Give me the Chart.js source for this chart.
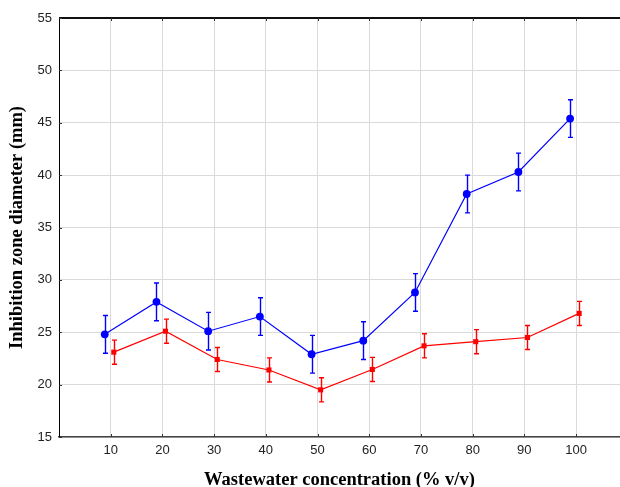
<!DOCTYPE html>
<html>
<head>
<meta charset="utf-8">
<script src="https://cdn.jsdelivr.net/npm/chart.js@4/dist/chart.umd.min.js"></script>
<style>
  html, body { margin: 0; padding: 0; background: #fff; overflow: hidden; }
  canvas { display: block; }
</style>
</head>
<body>
<canvas id="chart" width="620" height="487"></canvas>
<script>
// Wastewater concentration levels (% v/v)
const concentrations = [10, 20, 30, 40, 50, 60, 70, 80, 90, 100];

// Inhibition zone diameter (mm), mean and error for each series
const blueMeans  = [24.8, 27.9, 25.1, 26.5, 22.9, 24.2, 28.8, 38.2, 40.3, 45.4];
const blueErrors = [1.8, 1.8, 1.8, 1.8, 1.8, 1.8, 1.8, 1.8, 1.8, 1.8];
const redMeans   = [23.1, 25.1, 22.4, 21.4, 19.5, 21.45, 23.7, 24.1, 24.5, 26.8];
const redErrors  = [1.15, 1.15, 1.15, 1.15, 1.15, 1.15, 1.15, 1.15, 1.15, 1.15];

// Axis ticks
const xTicks = [10, 20, 30, 40, 50, 60, 70, 80, 90, 100];
const yTicks = [15, 20, 25, 30, 35, 40, 45, 50, 55];

// Small horizontal dodge so the two series' error bars do not overlap
const BLUE_DODGE = -1.15;
const RED_DODGE = 0.6;

const toPoints = (means, dodge) =>
  concentrations.map((c, i) => ({ x: c + dodge, y: means[i] }));

// Vertical error bars with short caps, drawn under the markers
const errorBars = {
  id: 'errorBars',
  beforeDatasetsDraw(chart) {
    const { ctx, scales: { x, y } } = chart;
    chart.data.datasets.forEach(ds => {
      if (!ds.errors) return;
      ctx.save();
      ctx.strokeStyle = ds.borderColor;
      ctx.lineWidth = 1.4;
      ds.data.forEach((p, i) => {
        const e = ds.errors[i];
        const px = Math.round(x.getPixelForValue(p.x)) + 0.5;
        const top = y.getPixelForValue(p.y + e);
        const bot = y.getPixelForValue(p.y - e);
        const cap = 2.5;
        ctx.beginPath();
        ctx.moveTo(px, top); ctx.lineTo(px, bot);
        ctx.moveTo(px - cap, top); ctx.lineTo(px + cap, top);
        ctx.moveTo(px - cap, bot); ctx.lineTo(px + cap, bot);
        ctx.stroke();
      });
      ctx.restore();
    });
  }
};

// Top frame line and short inward tick marks
const frame = {
  id: 'frame',
  afterDraw(chart) {
    const { ctx, chartArea: a, scales: { x, y } } = chart;
    ctx.save();
    ctx.strokeStyle = '#111';
    ctx.lineWidth = 2;
    ctx.beginPath();
    ctx.moveTo(a.left, a.top); ctx.lineTo(a.right, a.top);
    ctx.stroke();
    ctx.strokeStyle = '#333';
    ctx.lineWidth = 1;
    ctx.beginPath();
    xTicks.forEach(v => {
      const px = Math.round(x.getPixelForValue(v)) + 0.5;
      ctx.moveTo(px, a.top); ctx.lineTo(px, a.top + 3);
      ctx.moveTo(px, a.bottom); ctx.lineTo(px, a.bottom - 3);
    });
    yTicks.forEach(v => {
      const py = Math.round(y.getPixelForValue(v)) + 0.5;
      ctx.moveTo(a.left, py); ctx.lineTo(a.left + 3, py);
    });
    ctx.stroke();
    ctx.restore();
  }
};

const tickFont = { family: "'Liberation Sans', Arial, sans-serif", size: 13 };
const titleFont = { family: "'Liberation Serif', 'Times New Roman', serif", size: 18.5, weight: 'bold' };

new Chart(document.getElementById('chart'), {
  type: 'scatter',
  data: {
    datasets: [
      {
        data: toPoints(redMeans, RED_DODGE),
        errors: redErrors,
        showLine: true,
        borderColor: '#ff0000',
        backgroundColor: '#ff0000',
        borderWidth: 1.2,
        pointStyle: 'rect',
        pointRadius: 3.6,
        pointBorderWidth: 0,
        tension: 0
      },
      {
        data: toPoints(blueMeans, BLUE_DODGE),
        errors: blueErrors,
        showLine: true,
        borderColor: '#0000ff',
        backgroundColor: '#0000ff',
        borderWidth: 1.2,
        pointStyle: 'circle',
        pointRadius: 3.9,
        pointBorderWidth: 0,
        tension: 0
      }
    ]
  },
  options: {
    responsive: false,
    animation: false,
    layout: { autoPadding: false, padding: { top: 18, right: 0, left: 0, bottom: 0 } },
    plugins: { legend: { display: false }, tooltip: { enabled: false } },
    scales: {
      x: {
        type: 'linear',
        min: 0,
        max: 108.5,
        afterBuildTicks: s => { s.ticks = xTicks.map(v => ({ value: v })); },
        afterFit: s => { s.height = 50; s.paddingLeft = 0; s.paddingRight = 0; },
        grid: { color: '#dadada', lineWidth: 1, drawTicks: false },
        border: { display: true, color: '#444', width: 1.5 },
        ticks: { font: tickFont, color: '#222', padding: 6 },
        title: {
          display: true,
          text: 'Wastewater concentration (% v/v)',
          font: titleFont,
          color: '#000',
          padding: { top: 0, bottom: -4 }
        }
      },
      y: {
        min: 15,
        max: 55,
        afterBuildTicks: s => { s.ticks = yTicks.map(v => ({ value: v })); },
        afterFit: s => { s.width = 59; s.paddingTop = 0; s.paddingBottom = 0; },
        grid: { color: '#dadada', lineWidth: 1, drawTicks: false },
        border: { display: true, color: '#000', width: 1 },
        ticks: { font: tickFont, color: '#222', padding: 7 },
        title: {
          display: true,
          text: 'Inhibition zone diameter (mm)',
          font: titleFont,
          color: '#000',
          padding: { top: 6, bottom: 0 }
        }
      }
    }
  },
  plugins: [errorBars, frame]
});
</script>
</body>
</html>
